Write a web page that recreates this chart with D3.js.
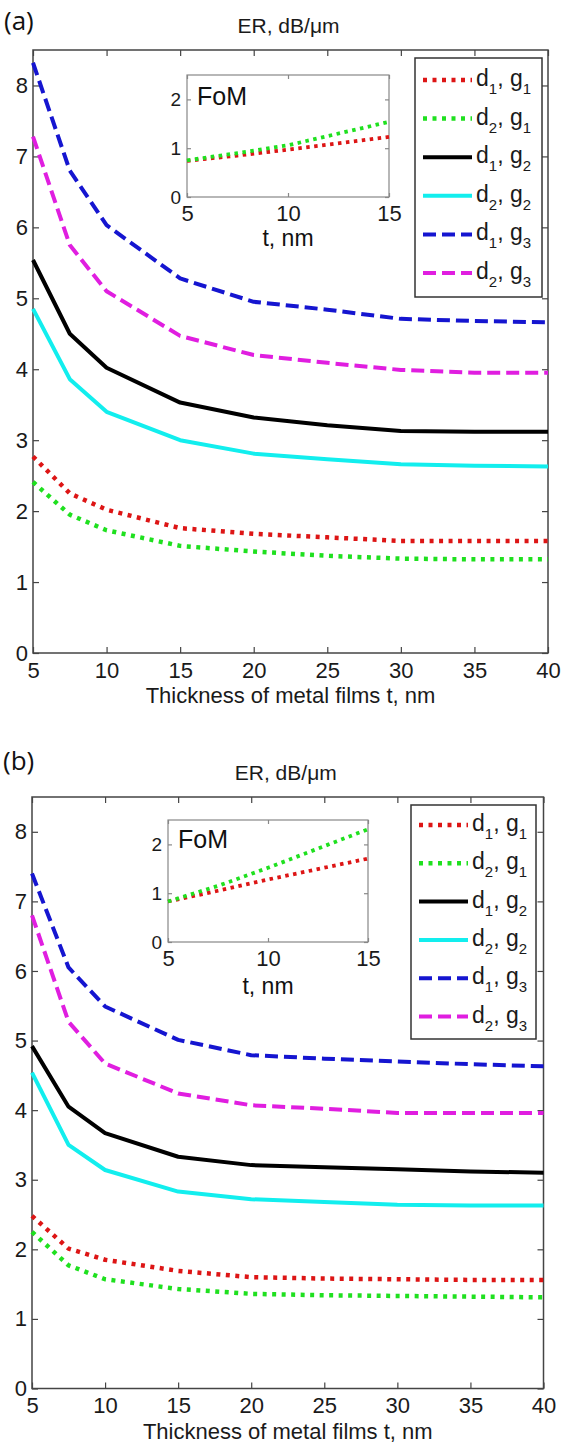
<!DOCTYPE html>
<html>
<head>
<meta charset="utf-8">
<script src="https://cdn.jsdelivr.net/npm/d3@7"></script>
<style>
  body { margin: 0; background: #fff; }
  text { font-family: "Liberation Sans", Arial, sans-serif; }
</style>
</head>
<body>
<svg id="fig" width="561" height="1446"></svg>
<script>
// film thickness t, nm (x of the main plots)
var thickness = [5, 7.5, 10, 15, 20, 25, 30, 35, 40];

// ER, dB/um  -- panel (a)
var erA_d1g1 = [2.77, 2.25, 2.02, 1.76, 1.68, 1.63, 1.58, 1.58, 1.58];
var erA_d2g1 = [2.41, 1.95, 1.73, 1.51, 1.43, 1.37, 1.33, 1.32, 1.32];
var erA_d1g2 = [5.54, 4.50, 4.02, 3.53, 3.32, 3.21, 3.13, 3.12, 3.12];
var erA_d2g2 = [4.85, 3.86, 3.40, 3.00, 2.81, 2.73, 2.66, 2.64, 2.63];
var erA_d1g3 = [8.32, 6.80, 6.03, 5.28, 4.95, 4.84, 4.71, 4.68, 4.66];
var erA_d2g3 = [7.28, 5.75, 5.10, 4.47, 4.20, 4.09, 3.99, 3.95, 3.95];

// ER, dB/um  -- panel (b)
var erB_d1g1 = [2.48, 2.01, 1.85, 1.69, 1.60, 1.58, 1.57, 1.56, 1.56];
var erB_d2g1 = [2.25, 1.77, 1.57, 1.43, 1.36, 1.34, 1.33, 1.32, 1.31];
var erB_d1g2 = [4.92, 4.05, 3.67, 3.33, 3.21, 3.18, 3.15, 3.12, 3.10];
var erB_d2g2 = [4.54, 3.50, 3.14, 2.83, 2.72, 2.68, 2.64, 2.63, 2.63];
var erB_d1g3 = [7.40, 6.05, 5.49, 5.01, 4.79, 4.74, 4.70, 4.66, 4.63];
var erB_d2g3 = [6.80, 5.27, 4.67, 4.24, 4.07, 4.02, 3.96, 3.96, 3.96];

// FoM insets (only d1,g1 and d2,g1)
var fomT = [5, 7.5, 10, 15];
var fomA_d1g1 = [0.74, 0.85, 0.97, 1.23];
var fomA_d2g1 = [0.75, 0.90, 1.06, 1.54];
var fomB_d1g1 = [0.83, 1.05, 1.28, 1.71];
var fomB_d2g1 = [0.83, 1.15, 1.52, 2.31];

// ticks
var xTicks = [5, 10, 15, 20, 25, 30, 35, 40];
var yTicks = [0, 1, 2, 3, 4, 5, 6, 7, 8];
var insetXTicks = [5, 10, 15];
var insetYTicks = [0, 1, 2];

// legend labels d_i, g_j
var legendD = [1, 2, 1, 2, 1, 2];
var legendG = [1, 1, 2, 2, 3, 3];

// line styles, same order as the series
var styles = [
    {color: "#dd1515", width: 4.5, dash: "4,5.5"},
    {color: "#1fe01f", width: 4.5, dash: "4,5.5"},
    {color: "#000000", width: 4, dash: null},
    {color: "#12eeee", width: 4, dash: null},
    {color: "#1515d0", width: 4, dash: "13,6"},
    {color: "#e01ee0", width: 4, dash: "13,6"}
];

var svg = d3.select("#fig");
var fmt = d3.format("d");

function styleTicks(sel, size, color) {
    sel.select(".domain").remove();
    sel.selectAll(".tick line").attr("stroke", color).attr("stroke-width", 1.2);
    sel.selectAll(".tick text")
        .attr("fill", "#1a1a1a")
        .style("font-size", size + "px")
        .style("font-family", '"Liberation Sans", Arial, sans-serif');
}

function drawPanel(cfg, er, fom) {
    var g = svg.append("g");
    var x = d3.scaleLinear().domain([5, 40]).range([cfg.left, cfg.right]);
    var y = d3.scaleLinear().domain([0, 8.5]).range([cfg.bottom, cfg.top]);

    // inward ticks on all four sides (matlab box)
    g.append("g").attr("transform", "translate(0," + cfg.bottom + ")")
        .call(d3.axisBottom(x).tickValues(xTicks).tickFormat(fmt).tickSize(-6).tickPadding(9))
        .call(styleTicks, 22, "#444");
    g.append("g").attr("transform", "translate(0," + cfg.top + ")")
        .call(d3.axisTop(x).tickValues(xTicks).tickSize(-6).tickFormat(""))
        .call(styleTicks, 22, "#444");
    g.append("g").attr("transform", "translate(" + cfg.left + ",0)")
        .call(d3.axisLeft(y).tickValues(yTicks).tickFormat(fmt).tickSize(-6).tickPadding(5))
        .call(styleTicks, 22, "#444");
    g.append("g").attr("transform", "translate(" + cfg.right + ",0)")
        .call(d3.axisRight(y).tickValues(yTicks).tickSize(-6).tickFormat(""))
        .call(styleTicks, 22, "#444");

    g.append("rect")
        .attr("x", cfg.left).attr("y", cfg.top)
        .attr("width", cfg.right - cfg.left).attr("height", cfg.bottom - cfg.top)
        .attr("fill", "none").attr("stroke", "#444").attr("stroke-width", 1.5);

    var line = d3.line()
        .x(function (d) { return x(d[0]); })
        .y(function (d) { return y(d[1]); });

    er.forEach(function (vals, i) {
        g.append("path")
            .datum(d3.zip(thickness, vals))
            .attr("fill", "none")
            .attr("stroke", styles[i].color)
            .attr("stroke-width", styles[i].width)
            .attr("stroke-dasharray", styles[i].dash)
            .attr("stroke-linejoin", "round")
            .attr("d", line);
    });

    // titles
    g.append("text")
        .attr("x", (cfg.left + cfg.right) / 2 - 2).attr("y", cfg.top - 17)
        .attr("text-anchor", "middle").attr("font-size", 21).attr("fill", "#1a1a1a")
        .text("ER, dB/\u03bcm");
    g.append("text")
        .attr("x", (cfg.left + cfg.right) / 2).attr("y", cfg.bottom + 50)
        .attr("text-anchor", "middle").attr("font-size", 22).attr("fill", "#1a1a1a")
        .text("Thickness of metal films t, nm");
    g.append("text")
        .attr("x", cfg.labelX).attr("y", cfg.labelY)
        .attr("font-size", 26).attr("fill", "#111")
        .style("font-family", '"Open Sans", "Noto Sans", sans-serif')
        .text(cfg.label);

    // inset FoM plot
    var ins = cfg.inset;
    var xi = d3.scaleLinear().domain([5, 15]).range([ins.left, ins.right]);
    var yi = d3.scaleLinear().domain([0, 2.5]).range([ins.bottom, ins.top]);
    var gi = g.append("g");
    gi.append("rect")
        .attr("x", ins.left).attr("y", ins.top)
        .attr("width", ins.right - ins.left).attr("height", ins.bottom - ins.top)
        .attr("fill", "#fff");
    gi.append("g").attr("transform", "translate(0," + ins.bottom + ")")
        .call(d3.axisBottom(xi).tickValues(insetXTicks).tickFormat(fmt).tickSize(-4).tickPadding(8))
        .call(styleTicks, 22, "#888");
    gi.append("g").attr("transform", "translate(0," + ins.top + ")")
        .call(d3.axisTop(xi).tickValues(insetXTicks).tickSize(-4).tickFormat(""))
        .call(styleTicks, 22, "#888");
    gi.append("g").attr("transform", "translate(" + ins.left + ",0)")
        .call(d3.axisLeft(yi).tickValues(insetYTicks).tickFormat(fmt).tickSize(-4).tickPadding(6))
        .call(styleTicks, 19, "#888");
    gi.append("g").attr("transform", "translate(" + ins.right + ",0)")
        .call(d3.axisRight(yi).tickValues(insetYTicks).tickSize(-4).tickFormat(""))
        .call(styleTicks, 19, "#888");
    gi.append("rect")
        .attr("x", ins.left).attr("y", ins.top)
        .attr("width", ins.right - ins.left).attr("height", ins.bottom - ins.top)
        .attr("fill", "none").attr("stroke", "#888").attr("stroke-width", 1.2);

    var lineI = d3.line()
        .x(function (d) { return xi(d[0]); })
        .y(function (d) { return yi(d[1]); });
    fom.forEach(function (vals, i) {
        gi.append("path")
            .datum(d3.zip(fomT, vals))
            .attr("fill", "none")
            .attr("stroke", styles[i].color)
            .attr("stroke-width", 3.8)
            .attr("stroke-dasharray", "3.5,4.5")
            .attr("d", lineI);
    });
    gi.append("text")
        .attr("x", ins.left + 10).attr("y", ins.fomY)
        .attr("font-size", 25).attr("fill", "#111").text("FoM");
    gi.append("text")
        .attr("x", (ins.left + ins.right) / 2).attr("y", ins.tY)
        .attr("text-anchor", "middle").attr("font-size", 23).attr("fill", "#111")
        .text("t, nm");

    // legend
    var lg = cfg.legend;
    var gl = g.append("g");
    gl.append("rect")
        .attr("x", lg.left).attr("y", lg.top)
        .attr("width", lg.right - lg.left).attr("height", lg.bottom - lg.top)
        .attr("fill", "#fff").attr("stroke", "#333").attr("stroke-width", 1.5);
    styles.forEach(function (s, i) {
        var ry = lg.row0 + i * lg.step;
        gl.append("line")
            .attr("x1", lg.left + 8).attr("x2", lg.left + 57)
            .attr("y1", ry).attr("y2", ry)
            .attr("stroke", s.color).attr("stroke-width", s.width)
            .attr("stroke-dasharray", s.dash);
        var t = gl.append("text")
            .attr("x", lg.left + 61).attr("y", ry + 6)
            .attr("font-size", 23).attr("fill", "#1a1a1a");
        t.append("tspan").text("d");
        t.append("tspan").attr("font-size", 15).attr("dy", 8).text(legendD[i]);
        t.append("tspan").attr("dy", -8).text(", g");
        t.append("tspan").attr("font-size", 15).attr("dy", 8).text(legendG[i]);
    });
}

drawPanel({
    left: 33, right: 548, top: 50, bottom: 653,
    label: "(a)", labelX: 4, labelY: 30,
    inset: {left: 187, right: 389, top: 75, bottom: 197, fomY: 105, tY: 246},
    legend: {left: 415, right: 542, top: 58, bottom: 297, row0: 80, step: 38.6}
}, [erA_d1g1, erA_d2g1, erA_d1g2, erA_d2g2, erA_d1g3, erA_d2g3],
   [fomA_d1g1, fomA_d2g1]);

drawPanel({
    left: 32, right: 543.5, top: 797, bottom: 1388.5,
    label: "(b)", labelX: 3, labelY: 770,
    inset: {left: 168, right: 368, top: 820, bottom: 942, fomY: 848, tY: 994},
    legend: {left: 411, right: 536, top: 805, bottom: 1039, row0: 825, step: 38.3}
}, [erB_d1g1, erB_d2g1, erB_d1g2, erB_d2g2, erB_d1g3, erB_d2g3],
   [fomB_d1g1, fomB_d2g1]);
</script>
</body>
</html>
